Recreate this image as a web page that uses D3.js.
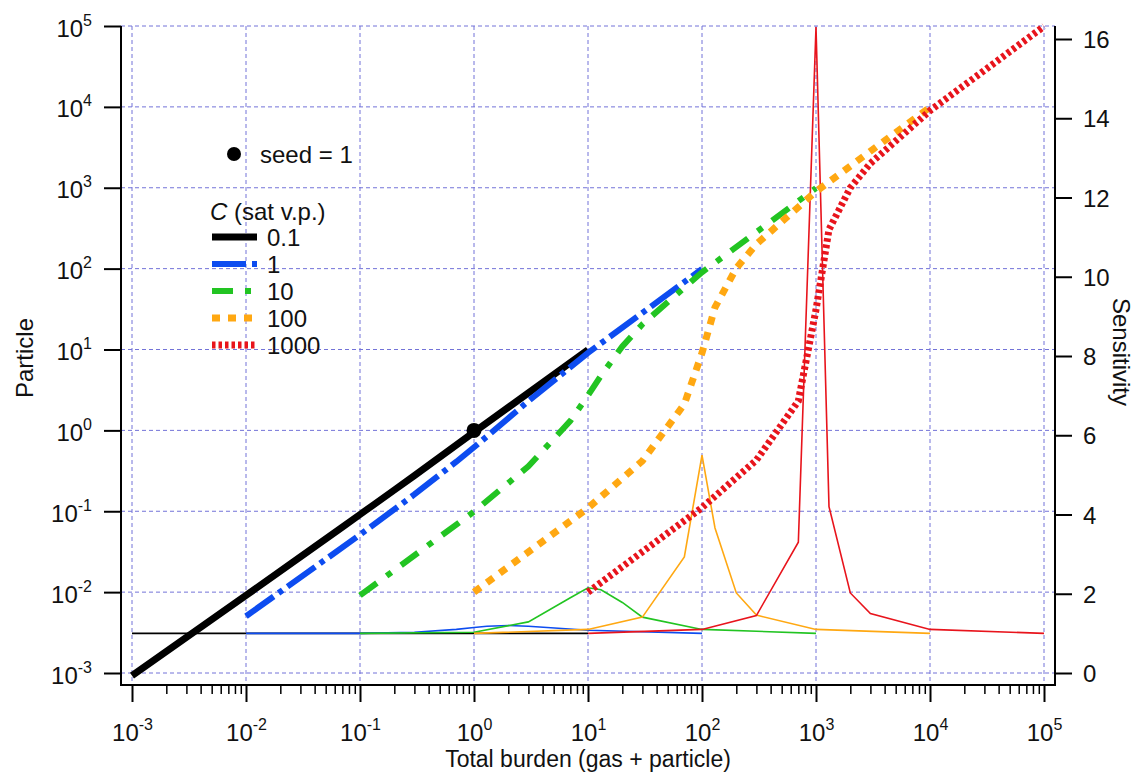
<!DOCTYPE html>
<html>
<head>
<meta charset="utf-8">
<script src="https://cdn.jsdelivr.net/npm/d3@7"></script>
<style>
  html, body { margin: 0; padding: 0; background: #fff; }
  svg { display: block; }
  text { font-family: "Liberation Sans", Arial, Helvetica, sans-serif; fill: #111; }
</style>
</head>
<body>
<svg id="chart" width="1137" height="773"></svg>
<script>
// ---------------- data ----------------
const xTickExps = [-3, -2, -1, 0, 1, 2, 3, 4, 5];
const yTickExps = [-3, -2, -1, 0, 1, 2, 3, 4, 5];
const sensTicks = [0, 2, 4, 6, 8, 10, 12, 14, 16];

const legendLabels = ["0.1", "1", "10", "100", "1000"];
const seriesColors = ["#000000", "#0d4cf0", "#22c422", "#ffa812", "#e8141c"];

// C = 0.1
const totalC01    = [0.001, 0.01, 0.03, 0.07, 0.1, 0.13, 0.2, 0.3, 1, 10];
const particleC01 = [0.00093, 0.0091, 0.0273, 0.0637, 0.0912, 0.1187, 0.183, 0.276, 0.952, 9.91];
const sensC01     = [1.0, 1.0, 1.0, 1.0, 1.0, 1.0, 1.0, 1.0, 1.0, 1.0];
// C = 1
const totalC1     = [0.01, 0.1, 0.3, 0.7, 1, 1.3, 2, 3, 10, 100];
const particleC1  = [0.00503, 0.0512, 0.1613, 0.4096, 0.618, 0.843, 1.414, 2.30, 9.1, 99.0];
const sensC1      = [1.0, 1.0, 1.03, 1.1, 1.15, 1.18, 1.2, 1.18, 1.08, 1.0];
// C = 10
const totalC10    = [0.1, 1, 3, 7, 10, 13, 20, 30, 100, 1000];
const particleC10 = [0.0091, 0.099, 0.36, 1.31, 2.70, 4.75, 10.9, 20.5, 90.1, 990];
const sensC10     = [1.0, 1.03, 1.29, 1.9, 2.15, 2.1, 1.78, 1.41, 1.1, 1.0];
// C = 100
const totalC100    = [1, 10, 30, 70, 100, 130, 200, 300, 1000, 10000];
const particleC100 = [0.00999, 0.1097, 0.42, 2.11, 9.05, 33.2, 101.5, 200.7, 900, 9900];
const sensC100     = [1.0, 1.1, 1.41, 2.93, 5.5, 3.66, 2.02, 1.46, 1.1, 1.0];
// C = 1000
const totalC1000    = [10, 100, 300, 700, 1000, 1300, 2000, 3000, 10000, 100000];
const particleC1000 = [0.00999, 0.111, 0.429, 2.31, 31.0, 304, 1000, 2000, 9000, 99000];
const sensC1000     = [1.0, 1.1, 1.45, 3.3, 16.3, 4.2, 2.02, 1.5, 1.1, 1.0];

const seedPoint = [1, 1];

// ---------------- layout ----------------
const svg = d3.select("#chart");
const frameL = 121, frameR = 1055, frameB = 685, frameT = 26;
const FS = 24, FSE = 16;

const x = d3.scaleLog().domain([1e-3, 1e5]).range([132, 1044]);
const y = d3.scaleLog().domain([1e-3, 1e5]).range([673, 26]);
const ys = d3.scaleLinear().domain([0, 16]).range([673, 39]);

const gridColor = "#7373d8";

// grid
const grid = svg.append("g");
xTickExps.forEach(e => {
  grid.append("line")
    .attr("x1", x(Math.pow(10, e))).attr("x2", x(Math.pow(10, e)))
    .attr("y1", frameT).attr("y2", frameB)
    .attr("stroke", gridColor).attr("stroke-width", 1).attr("stroke-dasharray", "4,3");
});
yTickExps.forEach(e => {
  grid.append("line")
    .attr("x1", frameL).attr("x2", frameR)
    .attr("y1", y(Math.pow(10, e))).attr("y2", y(Math.pow(10, e)))
    .attr("stroke", gridColor).attr("stroke-width", 1).attr("stroke-dasharray", "4,3");
});

// series definitions
const series = [
  { tot: totalC01,   part: particleC01,   sens: sensC01,   dash: null,        width: 7 },
  { tot: totalC1,    part: particleC1,    sens: sensC1,    dash: "34,6,5,6",  width: 6 },
  { tot: totalC10,   part: particleC10,   sens: sensC10,   dash: "21,12,6,12",width: 6 },
  { tot: totalC100,  part: particleC100,  sens: sensC100,  dash: "8,8",       width: 7 },
  { tot: totalC1000, part: particleC1000, sens: sensC1000, dash: "3.5,3",     width: 7 }
];

const lineP = d3.line().x(d => x(d[0])).y(d => y(d[1]));
const lineS = d3.line().x(d => x(d[0])).y(d => ys(d[1]));

// thin sensitivity lines
const gS = svg.append("g");
series.forEach((s, i) => {
  gS.append("path")
    .datum(s.tot.map((t, k) => [t, s.sens[k]]))
    .attr("d", lineS)
    .attr("fill", "none")
    .attr("stroke", seriesColors[i])
    .attr("stroke-width", 1.6)
    .attr("stroke-linejoin", "miter");
});

// thick particle lines
const gP = svg.append("g");
series.forEach((s, i) => {
  const p = gP.append("path")
    .datum(s.tot.map((t, k) => [t, s.part[k]]))
    .attr("d", lineP)
    .attr("fill", "none")
    .attr("stroke", seriesColors[i])
    .attr("stroke-width", s.width)
    .attr("stroke-linecap", "butt");
  if (s.dash) p.attr("stroke-dasharray", s.dash);
});

// seed point
svg.append("circle")
  .attr("cx", x(seedPoint[0])).attr("cy", y(seedPoint[1]))
  .attr("r", 7.5).attr("fill", "#000");

// ---------------- axes ----------------
function supLabel(sel) {
  sel.each(function(d) {
    const t = d3.select(this);
    t.text(null);
    const e = Math.round(Math.log10(d));
    t.append("tspan").text("10");
    t.append("tspan").attr("dy", -11).attr("font-size", FSE).text(e);
  });
}

const majors = xTickExps.map(e => Math.pow(10, e));
const minors = [];
for (let e = -3; e < 5; e++) for (let m = 2; m <= 9; m++) minors.push(m * Math.pow(10, e));

const gx = svg.append("g").attr("transform", `translate(0,${frameB})`)
  .call(d3.axisBottom(x).tickValues(majors).tickSize(17).tickSizeOuter(0).tickFormat(d => d));
gx.select(".domain").remove();
gx.selectAll(".tick line").attr("stroke", "#000").attr("stroke-width", 2);
gx.selectAll(".tick text")
  .attr("font-size", FS).attr("y", 0).attr("dy", 56).attr("text-anchor", "middle")
  .call(supLabel);

const gxm = svg.append("g").attr("transform", `translate(0,${frameB})`)
  .call(d3.axisBottom(x).tickValues(minors).tickSize(9).tickSizeOuter(0).tickFormat(""));
gxm.select(".domain").remove();
gxm.selectAll(".tick line").attr("stroke", "#000").attr("stroke-width", 1.5);

// left axis
const gy = svg.append("g").attr("transform", `translate(${frameL},0)`)
  .call(d3.axisLeft(y).tickValues(yTickExps.map(e => Math.pow(10, e))).tickSize(17).tickSizeOuter(0).tickFormat(d => d));
gy.select(".domain").remove();
gy.selectAll(".tick line").attr("stroke", "#000").attr("stroke-width", 2);
gy.selectAll(".tick text")
  .attr("font-size", FS).attr("x", -29).attr("dy", "0.42em").attr("text-anchor", "end")
  .call(supLabel);

// right axis
const gr = svg.append("g").attr("transform", `translate(${frameR},0)`)
  .call(d3.axisRight(ys).tickValues(sensTicks).tickSize(17).tickSizeOuter(0).tickFormat(d3.format("d")));
gr.select(".domain").remove();
gr.selectAll(".tick line").attr("stroke", "#000").attr("stroke-width", 2);
gr.selectAll(".tick text").attr("font-size", FS).attr("x", 28).attr("dy", "0.36em").attr("fill", "#111");

// frame lines
svg.append("line").attr("x1", frameL).attr("x2", frameL).attr("y1", frameT).attr("y2", frameB + 1)
  .attr("stroke", "#000").attr("stroke-width", 2);
svg.append("line").attr("x1", frameL - 1).attr("x2", frameR + 1).attr("y1", frameB).attr("y2", frameB)
  .attr("stroke", "#000").attr("stroke-width", 2);
svg.append("line").attr("x1", frameR).attr("x2", frameR).attr("y1", frameT).attr("y2", frameB + 1)
  .attr("stroke", "#000").attr("stroke-width", 2);

// axis titles
svg.append("text").attr("x", 588).attr("y", 767).attr("text-anchor", "middle")
  .attr("font-size", 23).text("Total burden (gas + particle)");
svg.append("text").attr("transform", "translate(33,358) rotate(-90)").attr("text-anchor", "middle")
  .attr("font-size", FS).text("Particle");
svg.append("text").attr("transform", "translate(1113,352) rotate(90)").attr("text-anchor", "middle")
  .attr("font-size", FS).text("Sensitivity");

// ---------------- legend ----------------
const lg = svg.append("g");
lg.append("circle").attr("cx", 234).attr("cy", 154).attr("r", 7).attr("fill", "#000");
lg.append("text").attr("x", 260).attr("y", 154).attr("dy", "0.36em").attr("font-size", FS).text("seed = 1");

const ct = lg.append("text").attr("x", 210).attr("y", 211).attr("dy", "0.36em").attr("font-size", FS);
ct.append("tspan").attr("font-style", "italic").text("C");
ct.append("tspan").text(" (sat v.p.)");

const rowY = [237, 264, 291, 318, 345];
legendLabels.forEach((lab, i) => {
  const l = lg.append("line")
    .attr("x1", 212).attr("x2", 257).attr("y1", rowY[i]).attr("y2", rowY[i])
    .attr("stroke", seriesColors[i]).attr("stroke-width", series[i].width)
    .attr("stroke-linecap", "butt");
  if (series[i].dash) l.attr("stroke-dasharray", series[i].dash);
  lg.append("text").attr("x", 267).attr("y", rowY[i]).attr("dy", "0.36em").attr("font-size", FS).text(lab);
});
</script>
</body>
</html>
